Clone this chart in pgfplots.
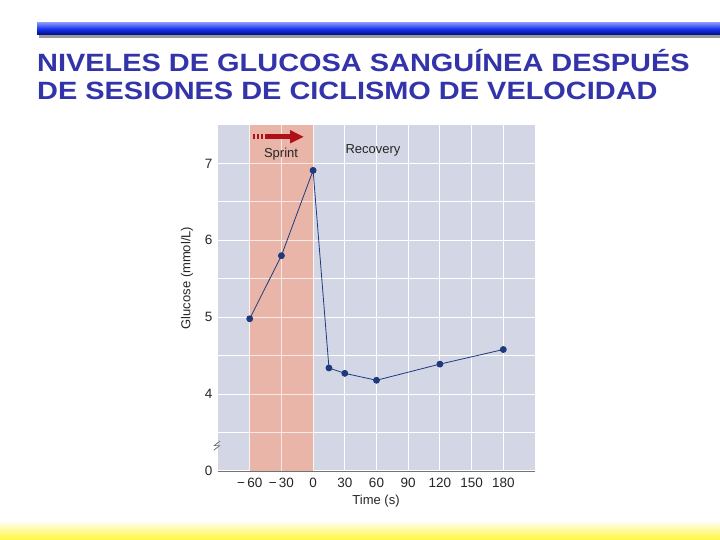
\documentclass[border=0pt]{standalone}
\usepackage{fontspec}
\setmainfont{Liberation Sans}
\usepackage{pgfplots}
\pgfplotsset{compat=1.18}

\definecolor{plotbg}{RGB}{211,214,228}
\definecolor{sprintc}{RGB}{232,181,168}
\definecolor{navy}{RGB}{30,58,125}
\definecolor{titleblue}{RGB}{51,51,170}
\definecolor{arrowred}{RGB}{176,16,26}
\definecolor{barblue}{RGB}{20,50,240}
\definecolor{bardark}{RGB}{0,10,120}
\definecolor{yel}{RGB}{255,247,60}

\begin{document}
\begin{tikzpicture}[x=1pt,y=1pt]
% page frame 720 x 540
\path[fill=white] (0,0) rectangle (720,540);

% top bar with shadow
\fill[black!40] (39,502) rectangle (720,507);
\shade[top color=barblue!55, bottom color=bardark, middle color=barblue] (37,505) rectangle (720,517);

% bottom yellow band
\shade[top color=white, bottom color=yel] (0,0) rectangle (720,20);

% title
\node[anchor=base west, inner sep=0pt, text=titleblue, font=\fontsize{25}{30}\selectfont\bfseries]
  at (37,468) {\scalebox{1.157}[1]{NIVELES DE GLUCOSA SANGUÍNEA DESPUÉS}};
\node[anchor=base west, inner sep=0pt, text=titleblue, font=\fontsize{25}{30}\selectfont\bfseries]
  at (37,440) {\scalebox{1.157}[1]{DE SESIONES DE CICLISMO DE VELOCIDAD}};

\begin{axis}[
  at={(218pt,69pt)}, anchor=south west,
  scale only axis, width=317pt, height=346pt,
  xmin=-90, xmax=210, ymin=3, ymax=7.5,
  axis background/.style={fill=plotbg},
  axis line style={draw=none},
  xtick={-60,-30,0,30,60,90,120,150,180},
  xticklabels={−\,60,−\,30,0,30,60,90,120,150,180},
  ytick={3,4,5,6,7},
  yticklabels={0,4,5,6,7},
  minor ytick={3.5,4.5,5.5,6.5},
  major tick length=0pt, minor tick length=0pt,
  grid=both,
  major grid style={white, line width=1.1pt},
  minor grid style={white, line width=1.1pt},
  tick label style={font=\fontsize{13.5}{15}\selectfont, text=black!85},
  xticklabel style={yshift=-4pt},
  yticklabel style={xshift=-2pt},
  clip=false,
]
% sprint window, with its grid lines drawn again on top
\addplot[fill=sprintc, draw=none]
  coordinates {(-60,3) (-60,7.5) (0,7.5) (0,3)} -- cycle;
\addplot[white!70!sprintc, line width=1.1pt] coordinates {(-30,3) (-30,7.5)};
\addplot[white!85!sprintc, line width=1.1pt] coordinates {(-60,3) (-60,7.5)};
\addplot[white!85!sprintc, line width=1.1pt] coordinates {(0,3) (0,7.5)};
\foreach \yy in {3.5,4,4.5,5,5.5,6,6.5,7} {
  \edef\tmp{\noexpand\addplot[white!70!sprintc, line width=1.1pt] coordinates {(-60,\yy) (0,\yy)};}
  \tmp
}

% glucose
\addplot[navy, line width=0.8pt, mark=*, mark size=3pt, mark options={fill=navy, draw=navy}]
  coordinates {
  (-60,4.98) (-30,5.80) (0,6.91) (15,4.34) (30,4.27) (60,4.18) (120,4.39) (180,4.58)
};

% bottom axis line and break mark
\draw[black!55, line width=0.8pt] (axis cs:-90,3) -- (axis cs:210,3);
\draw[black!60, line width=0.7pt] (axis cs:-94,3.27) -- (axis cs:-88.5,3.33) -- (axis cs:-93.5,3.33) -- (axis cs:-88,3.39);
\end{axis}

% sprint arrow
\foreach \xa in {253,257,261} \fill[arrowred] (\xa,401) rectangle (\xa+2.2,405.5);
\fill[arrowred] (265,401) rectangle (290,405.5);
\fill[arrowred] (290,396.5) -- (303.5,403.2) -- (290,410) -- cycle;

\node[font=\fontsize{13}{15}\selectfont, text=black!85] at (281,386) {Sprint};
\node[font=\fontsize{13}{15}\selectfont, text=black!85] at (373,390) {Recovery};

% axis labels
\node[font=\fontsize{13}{15}\selectfont, text=black!85, rotate=90] at (187,262) {Glucose (mmol/L)};
\node[font=\fontsize{13}{15}\selectfont, text=black!85] at (376,39) {Time (s)};
\end{tikzpicture}
\end{document}
